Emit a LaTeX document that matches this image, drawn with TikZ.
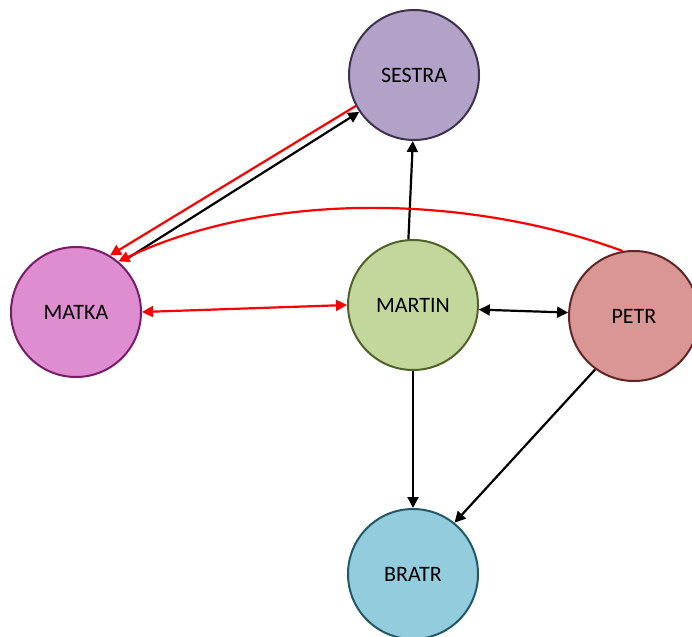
\documentclass[tikz,border=0pt]{standalone}
\usepackage{fontspec}
\setmainfont{Carlito}
\usetikzlibrary{arrows.meta}
\definecolor{sestraF}{HTML}{B3A2C7}
\definecolor{sestraD}{HTML}{3F3151}
\definecolor{matkaF}{HTML}{DE8DD0}
\definecolor{matkaD}{HTML}{7A1C6C}
\definecolor{martinF}{HTML}{C3D69B}
\definecolor{martinD}{HTML}{4F6228}
\definecolor{petrF}{HTML}{D99694}
\definecolor{petrD}{HTML}{632523}
\definecolor{bratrF}{HTML}{93CDDD}
\definecolor{bratrD}{HTML}{215967}
\definecolor{redline}{HTML}{FF0000}
\tikzset{
  person/.style={circle, minimum size=130pt, inner sep=0pt, line width=2pt,
    font=\fontsize{22}{26}\selectfont},
  conn/.style={line width=2.2pt, -{Triangle[length=11pt,width=11pt]}},
  both/.style={line width=2.2pt, {Triangle[length=11pt,width=11pt]}-{Triangle[length=11pt,width=11pt]}},
}
\begin{document}
\begin{tikzpicture}[x=1pt,y=-1pt]
\useasboundingbox (0,0) rectangle (692,636);
\node[person, fill=sestraF, draw=sestraD] (sestra) at (414,75) {SESTRA};
\node[person, fill=matkaF, draw=matkaD] (matka) at (76,312) {MATKA};
\node[person, fill=martinF, draw=martinD] (martin) at (413,305) {MARTIN};
\node[person, fill=petrF, draw=petrD] (petr) at (634,316) {PETR};
\node[person, fill=bratrF, draw=bratrD] (bratr) at (413,574) {BRATR};

% black arrows
\draw[conn, black] (martin.94) -- (sestra.269);
\draw[conn, black, shorten <=6pt] (matka.48) -- (sestra.214);
\draw[conn, black] (martin.south) -- (bratr.north);
\draw[conn, black] (petr.234) -- (bratr.51);
\draw[both, black] (martin.-4) -- (petr.177);

% red arrows
\draw[conn, redline] (sestra.208) -- (matka.59);
\draw[conn, redline] (petr.100) .. controls (470,195) and (270,190) .. (matka.50);
\draw[both, redline] (matka.0) -- (martin.180);
\end{tikzpicture}
\end{document}
